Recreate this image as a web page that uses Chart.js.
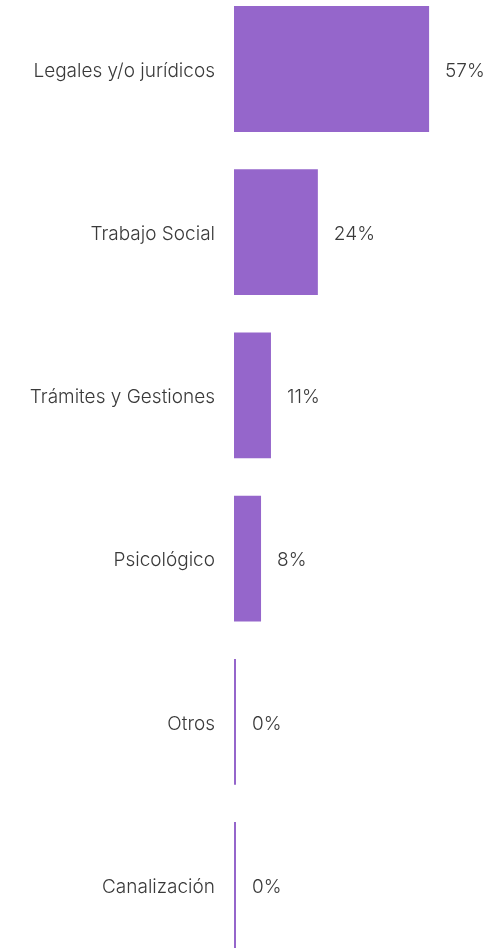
<!DOCTYPE html>
<html>
<head>
<meta charset="utf-8">
<script src="https://cdn.jsdelivr.net/npm/chart.js@4"></script>
<style>
  html, body { margin: 0; padding: 0; background: #fff; overflow: hidden; }
  #wrap { position: absolute; left: 0; top: -43px; width: 489px; height: 1040px; }
</style>
</head>
<body>
<div id="wrap"><canvas id="myChart"></canvas></div>
<script>
const categories = ["Legales y/o jurídicos", "Trabajo Social", "Trámites y Gestiones", "Psicológico", "Otros", "Canalización"];
const percentages = [57, 24.5, 10.8, 7.9, 0, 0];
const percentLabels = ["57%", "24%", "11%", "8%", "0%", "0%"];

const fontFamily = "Inter, sans-serif";

// value labels to the right of each bar
const valueLabels = {
    id: 'valueLabels',
    afterDatasetsDraw(chart) {
        const ctx = chart.ctx;
        const meta = chart.getDatasetMeta(0);
        ctx.save();
        ctx.font = '300 19px ' + fontFamily;
        ctx.fillStyle = '#3a3a3a';
        ctx.textAlign = 'left';
        ctx.textBaseline = 'middle';
        meta.data.forEach(function(bar, i) {
            const end = Math.max(bar.x, bar.base + 2);
            ctx.fillText(percentLabels[i], end + 16, bar.y + 2);
        });
        ctx.restore();
    }
};

const config = {
    type: 'bar',
    data: {
        labels: categories,
        datasets: [{
            data: percentages,
            backgroundColor: '#9566cb',
            borderWidth: 0,
            minBarLength: 2,
            categoryPercentage: 1,
            barPercentage: 0.771
        }]
    },
    options: {
        indexAxis: 'y',
        responsive: true,
        maintainAspectRatio: false,
        animation: false,
        layout: { padding: 0 },
        plugins: {
            legend: { display: false },
            tooltip: { enabled: false }
        },
        scales: {
            x: {
                display: false,
                min: 0,
                max: 74.5
            },
            y: {
                grid: { display: false, drawTicks: false },
                border: { display: false },
                ticks: {
                    padding: 19,
                    labelOffset: 2,
                    color: '#3a3a3a',
                    font: { family: fontFamily, size: 19, weight: '300' }
                },
                afterFit(scale) { scale.width = 234; }
            }
        }
    },
    plugins: [valueLabels]
};

const myChart = new Chart(document.getElementById('myChart'), config);
</script>
</body>
</html>
